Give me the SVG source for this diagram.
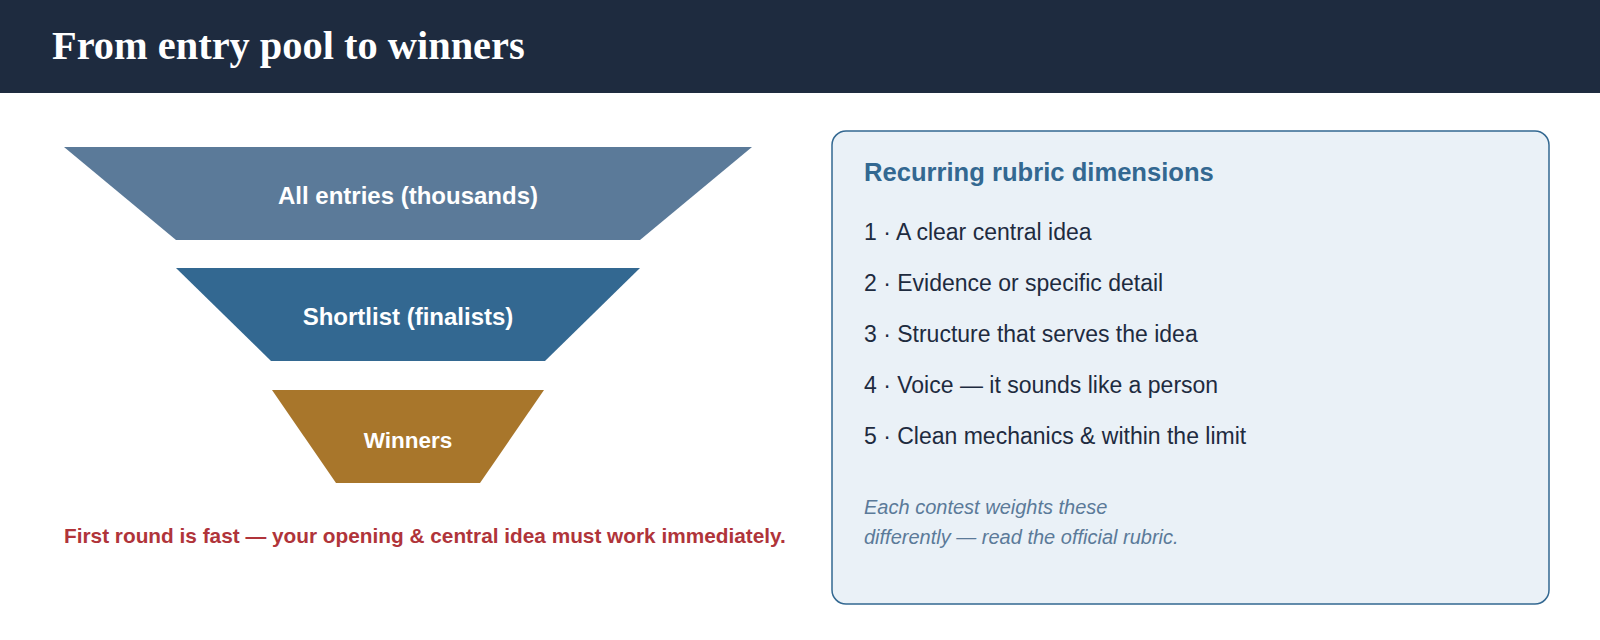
<svg xmlns="http://www.w3.org/2000/svg" width="1600" height="640" viewBox="0 0 1600 640">
<style>
.hdr{fill:#1e2b3f}
.title{font-family:"Liberation Serif",Georgia,serif;font-weight:bold;font-size:40.4px;fill:#ffffff}
.lbl{font-family:"Liberation Sans",Arial,sans-serif;font-weight:bold;font-size:24px;fill:#ffffff;text-anchor:middle}
.warn{font-family:"Liberation Sans",Arial,sans-serif;font-weight:bold;font-size:20.8px;fill:#b0343a}
.panel{fill:#eaf1f7;stroke:#336891;stroke-width:1.5}
.ptitle{font-family:"Liberation Sans",Arial,sans-serif;font-weight:bold;font-size:25.6px;fill:#336891}
.item{font-family:"Liberation Sans",Arial,sans-serif;font-size:23px;fill:#1e2b3f}
.note{font-family:"Liberation Sans",Arial,sans-serif;font-style:italic;font-size:20px;fill:#5b7a99}
</style>
<rect class="hdr" x="0" y="0" width="1600" height="93"/>
<text class="title" x="52" y="59">From entry pool to winners</text>
<g id="stage-all">
<polygon points="64,147 752,147 640,240 176,240" fill="#5b7a99"/>
<text class="lbl" x="408" y="204">All entries (thousands)</text>
</g>
<g id="stage-shortlist">
<polygon points="176,268 640,268 545,361 271,361" fill="#336891"/>
<text class="lbl" x="408" y="325">Shortlist (finalists)</text>
</g>
<g id="stage-winners">
<polygon points="272,390 544,390 480,483 336,483" fill="#a8762b"/>
<text class="lbl" x="408" y="448" style="font-size:22.5px">Winners</text>
</g>
<g id="connectors"></g>
<text class="warn" x="64" y="543">First round is fast — your opening &amp; central idea must work immediately.</text>
<g id="rubric">
<rect class="panel" x="832" y="131" width="717" height="473" rx="14"/>
<text class="ptitle" x="864" y="181">Recurring rubric dimensions</text>
<text class="item" x="864" y="240">1 · A clear central idea</text>
<text class="item" x="864" y="291">2 · Evidence or specific detail</text>
<text class="item" x="864" y="342">3 · Structure that serves the idea</text>
<text class="item" x="864" y="393">4 · Voice — it sounds like a person</text>
<text class="item" x="864" y="444">5 · Clean mechanics &amp; within the limit</text>
<text class="note" x="864" y="514">Each contest weights these</text>
<text class="note" x="864" y="544">differently — read the official rubric.</text>
</g>
</svg>
